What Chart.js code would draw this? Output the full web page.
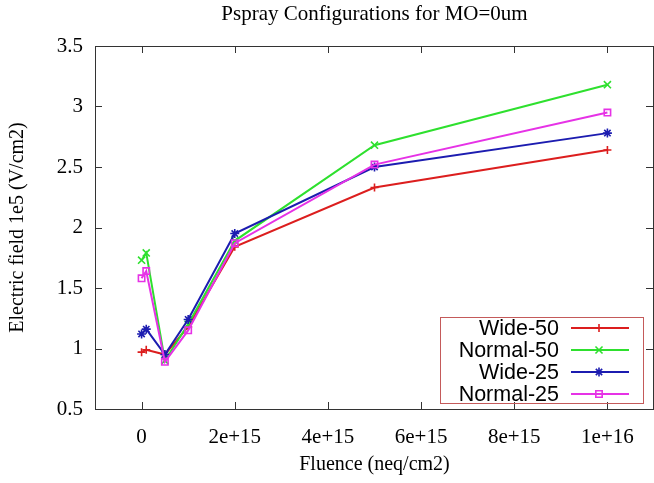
<!DOCTYPE html>
<html>
<head>
<meta charset="utf-8">
<script src="https://cdn.jsdelivr.net/npm/chart.js@4/dist/chart.umd.min.js"></script>
<style>
  html, body { margin: 0; padding: 0; background: #fff; }
  #wrap { width: 654px; height: 483px; }
</style>
</head>
<body>
<div id="wrap"><canvas id="c" width="654" height="483"></canvas></div>
<script>
// Fluence points (neq/cm2)
const fluence = [0, 1e14, 5e14, 1e15, 2e15, 5e15, 1e16];

// Peak electric field, units of 1e5 V/cm2
const wide50   = [0.97, 0.99, 0.95, 1.18, 1.84, 2.33, 2.64];
const normal50 = [1.73, 1.79, 0.90, 1.20, 1.89, 2.68, 3.18];
const wide25   = [1.12, 1.16, 0.95, 1.24, 1.95, 2.50, 2.78];
const normal25 = [1.58, 1.64, 0.89, 1.15, 1.87, 2.52, 2.95];

const seriesNames = ['Wide-50', 'Normal-50', 'Wide-25', 'Normal-25'];

const xTicks = [0, 2e15, 4e15, 6e15, 8e15, 1e16];
const xTickLabels = ['0', '2e+15', '4e+15', '6e+15', '8e+15', '1e+16'];
const yTicks = [0.5, 1, 1.5, 2, 2.5, 3, 3.5];
const yTickLabels = ['0.5', '1', '1.5', '2', '2.5', '3', '3.5'];

const SERIF = "'Liberation Serif', 'Times New Roman', serif";
const SANS = "'Liberation Sans', Arial, sans-serif";
const FRAME = '#333333';

function pts(values) {
  return values.map((v, i) => ({ x: fluence[i], y: v }));
}

function series(label, values, color, style, radius, order) {
  return {
    label: label,
    data: pts(values),
    borderColor: color,
    backgroundColor: color,
    borderWidth: 2,
    pointStyle: style,
    pointRadius: radius,
    pointHoverRadius: radius,
    pointBorderColor: color,
    pointBackgroundColor: style === 'rect' ? 'rgba(0,0,0,0)' : color,
    pointBorderWidth: 1.6,
    tension: 0,
    order: order
  };
}

// Box around the plot with inward tick marks on all four sides
const framePlugin = {
  id: 'frame',
  afterDatasetsDraw(chart) {
    const { ctx, chartArea: a, scales } = chart;
    const tl = 7;
    ctx.save();
    ctx.strokeStyle = FRAME;
    ctx.lineWidth = 1;
    ctx.beginPath();
    xTicks.forEach(v => {
      const px = Math.round(scales.x.getPixelForValue(v)) + 0.5;
      ctx.moveTo(px, a.bottom); ctx.lineTo(px, a.bottom - tl);
      ctx.moveTo(px, a.top); ctx.lineTo(px, a.top + tl);
    });
    yTicks.forEach(v => {
      const py = Math.round(scales.y.getPixelForValue(v)) + 0.5;
      ctx.moveTo(a.left, py); ctx.lineTo(a.left + tl, py);
      ctx.moveTo(a.right - 1, py); ctx.lineTo(a.right - 1 - tl, py);
    });
    ctx.stroke();
    ctx.strokeRect(Math.round(a.left) + 0.5, Math.round(a.top) + 0.5,
                   Math.round(a.right - a.left) - 1, Math.round(a.bottom - a.top));
    ctx.restore();
  }
};

// Key in the lower right: right-aligned names, line sample with marker
const keyPlugin = {
  id: 'key',
  afterDraw(chart) {
    const { ctx, chartArea: a } = chart;
    const boxRight = a.right - 11, boxBottom = a.bottom - 6;
    const boxW = 203, boxH = 86;
    const boxLeft = boxRight - boxW, boxTop = boxBottom - boxH;
    const rowH = 22;
    ctx.save();
    ctx.strokeStyle = '#c45a5a';
    ctx.lineWidth = 1;
    ctx.strokeRect(Math.round(boxLeft) + 0.5, Math.round(boxTop) + 0.5, boxW, boxH);
    ctx.font = '21.5px ' + SANS;
    ctx.textAlign = 'right';
    ctx.textBaseline = 'middle';
    chart.data.datasets.forEach((ds, i) => {
      const y = boxTop + 11 + i * rowH;
      ctx.fillStyle = '#000';
      ctx.fillText(ds.label, boxLeft + 119, y + 1);
      ctx.strokeStyle = ds.borderColor;
      ctx.lineWidth = 2;
      ctx.beginPath();
      ctx.moveTo(boxLeft + 131, y);
      ctx.lineTo(boxLeft + 189, y);
      ctx.stroke();
      ctx.lineWidth = ds.pointBorderWidth;
      ctx.fillStyle = ds.pointBackgroundColor;
      Chart.helpers.drawPoint(ctx, {
        pointStyle: ds.pointStyle,
        radius: ds.pointRadius,
        rotation: 0,
        borderWidth: ds.pointBorderWidth
      }, boxLeft + 159, y);
    });
    ctx.restore();
  }
};

new Chart(document.getElementById('c'), {
  type: 'line',
  data: {
    datasets: [
      series(seriesNames[0], wide50,   '#dc1e1e', 'cross',    4,   4),
      series(seriesNames[1], normal50, '#2ee02e', 'crossRot', 5,   3),
      series(seriesNames[2], wide25,   '#1c1cb0', 'star',     4.5, 2),
      series(seriesNames[3], normal25, '#e632e6', 'rect',     4.5, 1)
    ]
  },
  options: {
    responsive: false,
    devicePixelRatio: 1,
    animation: false,
    layout: { autoPadding: false, padding: { left: 0, right: 0, top: 0, bottom: 0 } },
    plugins: {
      legend: { display: false },
      tooltip: { enabled: false },
      title: {
        display: true,
        text: 'Pspray Configurations for MO=0um',
        fullSize: false,
        color: '#000',
        font: { family: SERIF, size: 21, weight: 'normal', lineHeight: 1.2 },
        padding: { top: 2, bottom: 18.8 }
      }
    },
    scales: {
      x: {
        type: 'linear',
        min: -1e15,
        max: 1.1e16,
        grid: { display: false, drawTicks: false },
        border: { display: false },
        afterBuildTicks: axis => { axis.ticks = xTicks.map(v => ({ value: v })); },
        afterFit: axis => { axis.height = 74; axis.paddingLeft = 0; axis.paddingRight = 0; },
        ticks: {
          color: '#000',
          font: { family: SERIF, size: 21 },
          padding: 16,
          maxRotation: 0,
          autoSkip: false,
          callback: v => { const i = xTicks.indexOf(v); return i >= 0 ? xTickLabels[i] : ''; }
        },
        title: {
          display: true,
          text: 'Fluence (neq/cm2)',
          color: '#000',
          font: { family: SERIF, size: 20, lineHeight: 1.2 },
          padding: { top: 0, bottom: 6 }
        }
      },
      y: {
        type: 'linear',
        min: 0.5,
        max: 3.5,
        grid: { display: false, drawTicks: false },
        border: { display: false },
        afterBuildTicks: axis => { axis.ticks = yTicks.map(v => ({ value: v })); },
        afterFit: axis => { axis.width = 95; },
        ticks: {
          color: '#000',
          font: { family: SERIF, size: 21 },
          padding: 12,
          autoSkip: false,
          callback: v => { const i = yTicks.indexOf(v); return i >= 0 ? yTickLabels[i] : ''; }
        },
        title: {
          display: true,
          text: 'Electric field 1e5 (V/cm2)',
          color: '#000',
          font: { family: SERIF, size: 20, lineHeight: 1.2 },
          padding: { top: 6, bottom: 0 }
        }
      }
    }
  },
  plugins: [framePlugin, keyPlugin]
});
</script>
</body>
</html>
